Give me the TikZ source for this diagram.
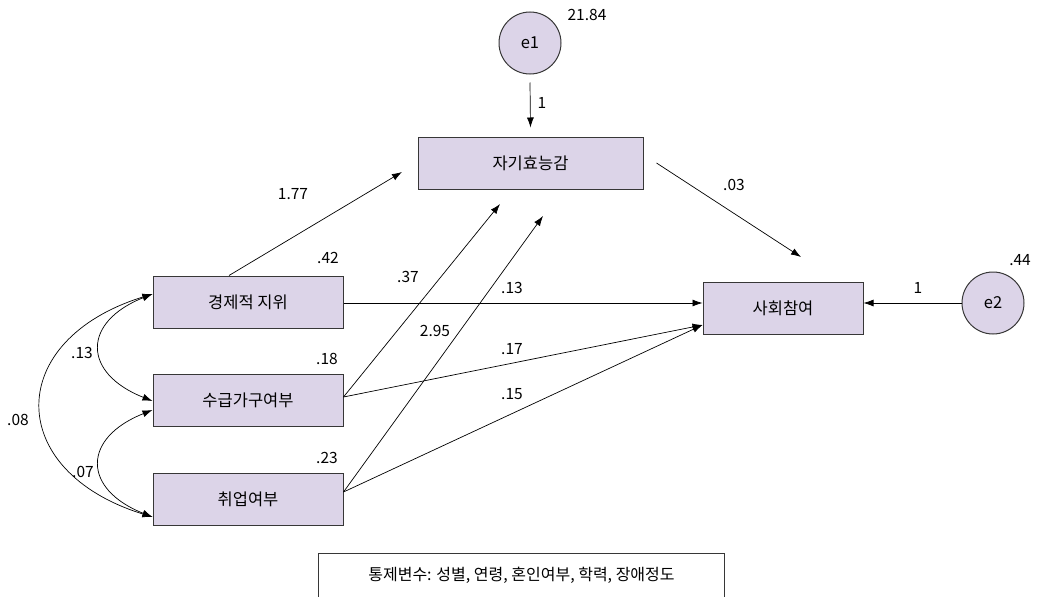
\documentclass[tikz,border=0pt]{standalone}
\usepackage{fontspec}
\setmainfont{Noto Sans CJK KR}
\usetikzlibrary{arrows.meta,calc}
\definecolor{boxfill}{RGB}{220,212,232}
\definecolor{edge}{RGB}{55,55,55}
\begin{document}
\begin{tikzpicture}[x=1pt,y=-1pt,
  var/.style={draw=edge, line width=1pt, fill=boxfill, minimum width=190pt, minimum height=52pt, inner sep=0pt, font=\fontsize{16.5}{18}\selectfont},
  err/.style={circle, draw=edge, line width=1pt, fill=boxfill, minimum size=62pt, inner sep=0pt, font=\fontsize{16.5}{18}\selectfont},
  arr/.style={-{Latex[length=10pt,width=7pt]}, line width=0.7pt},
  cov/.style={{Latex[length=10pt,width=7pt]}-{Latex[length=10pt,width=7pt]}, line width=0.7pt},
  lab/.style={font=\fontsize{15.5}{17}\selectfont, inner sep=0pt}]
\useasboundingbox (0,0) rectangle (1037,597);

% nodes
\node[err] (e1) at (530,43) {e1};
\node[var, minimum width=225pt] (se) at (530.5,163) {자기효능감};
\node[var] (econ) at (248,302) {경제적 지위};
\node[var] (recip) at (248,400) {수급가구여부};
\node[var] (emp) at (248,499) {취업여부};
\node[var, minimum width=160pt] (soc) at (783,308) {사회참여};
\node[err] (e2) at (993,303) {e2};

% free arrow ends
\coordinate (t1) at (402,172);
\coordinate (t2) at (500,204);
\coordinate (t3) at (543,216);
\coordinate (t4) at (801,257);

% paths
\draw[arr] ([yshift=-8pt]e1.south) -- ([yshift=9pt]se.north);
\draw[arr] ([xshift=-19pt]econ.north) -- (t1);
\draw[arr] ([yshift=3pt]recip.east) -- (t2);
\draw[arr] ([yshift=7pt]emp.east) -- (t3);
\draw[arr] ([xshift=13pt]se.east) -- (t4);
\draw[arr] ([yshift=-1pt]econ.east) -- ([yshift=5pt]soc.west);
\draw[arr] ([yshift=3pt]recip.east) -- ([yshift=-17pt]soc.west);
\draw[arr] ([yshift=7pt]emp.east) -- ([yshift=-17pt]soc.west);
\draw[arr] (e2.west) -- ([yshift=5pt]soc.east);

% covariances
\draw[cov] ([yshift=8pt]econ.west) .. controls (82,322) and (82,373) .. ([yshift=-1pt]recip.west);
\draw[cov] ([yshift=-10pt]recip.west) .. controls (82,438) and (82,489) .. ([yshift=-18pt]emp.west);
\draw[cov] ([yshift=8pt]econ.west) .. controls (4,340) and (4,471) .. ([yshift=-18pt]emp.west);

% labels
\node[lab] (l2184) at (587,15) {21.84};
\node[lab] (le1) at (542,103) {1};
\node[lab] (l177) at (293,194) {1.77};
\node[lab] (l42) at (328,258) {.42};
\node[lab] (l37) at (408,277) {.37};
\node[lab] (l13p) at (512,288) {.13};
\node[lab] (l295) at (435,331) {2.95};
\node[lab] (l17) at (512,349) {.17};
\node[lab] (l15) at (512,394) {.15};
\node[lab] (l18) at (327,359) {.18};
\node[lab] (l23) at (327,458) {.23};
\node[lab] (l13c) at (82,353) {.13};
\node[lab] (l07) at (83,472) {.07};
\node[lab] (l08) at (18,420) {.08};
\node[lab] (l03) at (734,185) {.03};
\node[lab] (le2) at (918,288) {1};
\node[lab] (l44) at (1020,260) {.44};

% control variables box (cut off at bottom)
\node[minimum width=405pt, minimum height=43pt, inner sep=0pt, font=\fontsize{16}{18}\selectfont] (ctl) at (521.5,575.5) {통제변수: 성별, 연령, 혼인여부, 학력, 장애정도};
\draw[edge, line width=1pt] (ctl.south west) |- (ctl.north east) -- (ctl.south east);
\end{tikzpicture}
\end{document}
